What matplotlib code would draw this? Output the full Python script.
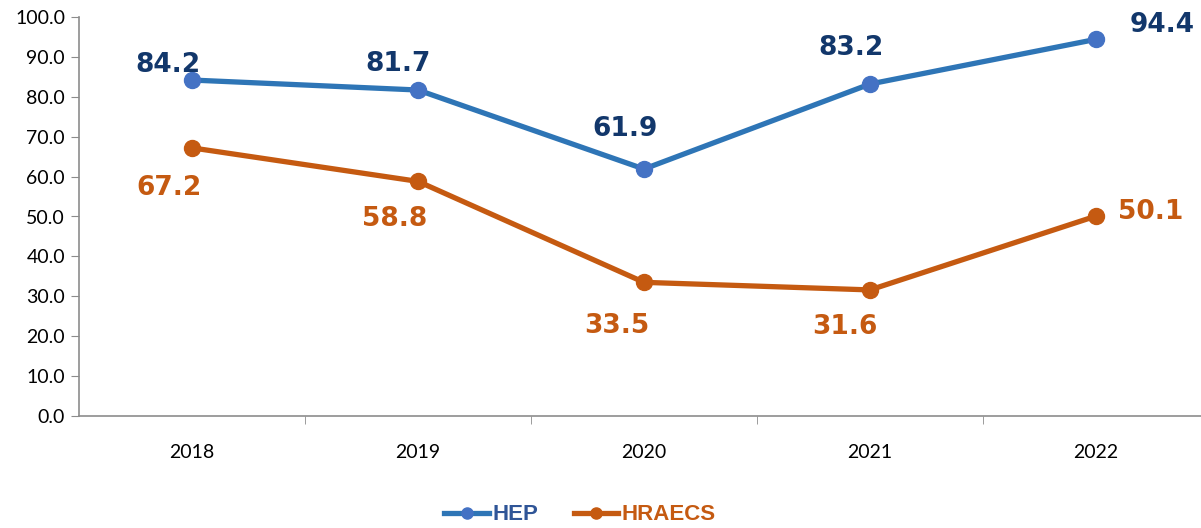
import matplotlib
matplotlib.use("Agg")
import matplotlib.pyplot as plt
from matplotlib import font_manager

years = ["2018", "2019", "2020", "2021", "2022"]
hep = [84.2, 81.7, 61.9, 83.2, 94.4]
hraecs = [67.2, 58.8, 33.5, 31.6, 50.1]
yticks = [0, 10, 20, 30, 40, 50, 60, 70, 80, 90, 100]

HEP_LINE = "#2E75B6"
HEP_MARK = "#4472C4"
HEP_LABEL = "#12376B"
HEP_LEG = "#2F5597"
HR_LINE = "#C55A11"
HR_LABEL = "#C55A11"

names = {f.name for f in font_manager.fontManager.ttflist}
leg_family = "Liberation Sans Narrow" if "Liberation Sans Narrow" in names else "Liberation Sans"

fig = plt.figure(figsize=(12.01, 5.28), dpi=100)
fig.patch.set_facecolor("white")
W, H = 1201, 528
ax = fig.add_axes([79 / W, (H - 416) / H, 1130 / W, 399 / H])
ax.set_facecolor("none")

x = list(range(len(years)))
l1, = ax.plot(x, hep, color=HEP_LINE, lw=3.8, marker="o", ms=11.5,
              mfc=HEP_MARK, mec=HEP_MARK, label="HEP", zorder=3)
l2, = ax.plot(x, hraecs, color=HR_LINE, lw=3.8, marker="o", ms=11.5,
              mfc=HR_LINE, mec=HR_LINE, label="HRAECS", zorder=3)

ax.set_xlim(-0.5, len(years) - 0.5)
ax.set_ylim(0, 100)
ax.set_yticks(yticks)
ax.set_yticklabels([f"{v:.1f}" for v in yticks], fontsize=14, family="Lato")
ax.set_xticks(x)
ax.set_xticklabels(years, fontsize=14, family="Lato")
ax.set_xticks([i + 0.5 for i in range(len(years) - 1)], minor=True)
ax.tick_params(axis="x", which="major", length=0, pad=20)
ax.tick_params(axis="x", which="minor", length=6, color="#8c8c8c", direction="out")
ax.tick_params(axis="y", length=6, color="#8c8c8c", pad=4)
for s in ["top", "right"]:
    ax.spines[s].set_visible(False)
for s in ["left", "bottom"]:
    ax.spines[s].set_color("#8c8c8c")
    ax.spines[s].set_linewidth(1.2)

# data label offsets in pixels (dx right, dy up)
hep_off = [(-24, 15), (-20, 26), (-19, 40), (-19, 36), (66, 14)]
hr_off = [(-23, -40), (-23, -38), (-27, -44), (-25, -37), (55, 4)]
for i, v in enumerate(hep):
    ax.annotate(f"{v:.1f}", (i, v), xytext=hep_off[i], textcoords="offset pixels",
                ha="center", va="center", fontsize=19, fontweight="bold",
                family="DejaVu Sans", color=HEP_LABEL)
for i, v in enumerate(hraecs):
    ax.annotate(f"{v:.1f}", (i, v), xytext=hr_off[i], textcoords="offset pixels",
                ha="center", va="center", fontsize=19, fontweight="bold",
                family="DejaVu Sans", color=HR_LABEL)

leg = fig.legend(handles=[l1, l2], loc="center", bbox_to_anchor=(580 / W, 1 - 515 / H),
                 ncol=2, frameon=False, handlelength=2.0, handletextpad=0.15,
                 columnspacing=1.6, prop={"family": leg_family, "weight": "bold", "size": 16})
for t, c in zip(leg.get_texts(), [HEP_LEG, HR_LINE]):
    t.set_color(c)
for h in leg.legend_handles:
    h.set_markersize(8)

fig.savefig("out.png", dpi=100)
